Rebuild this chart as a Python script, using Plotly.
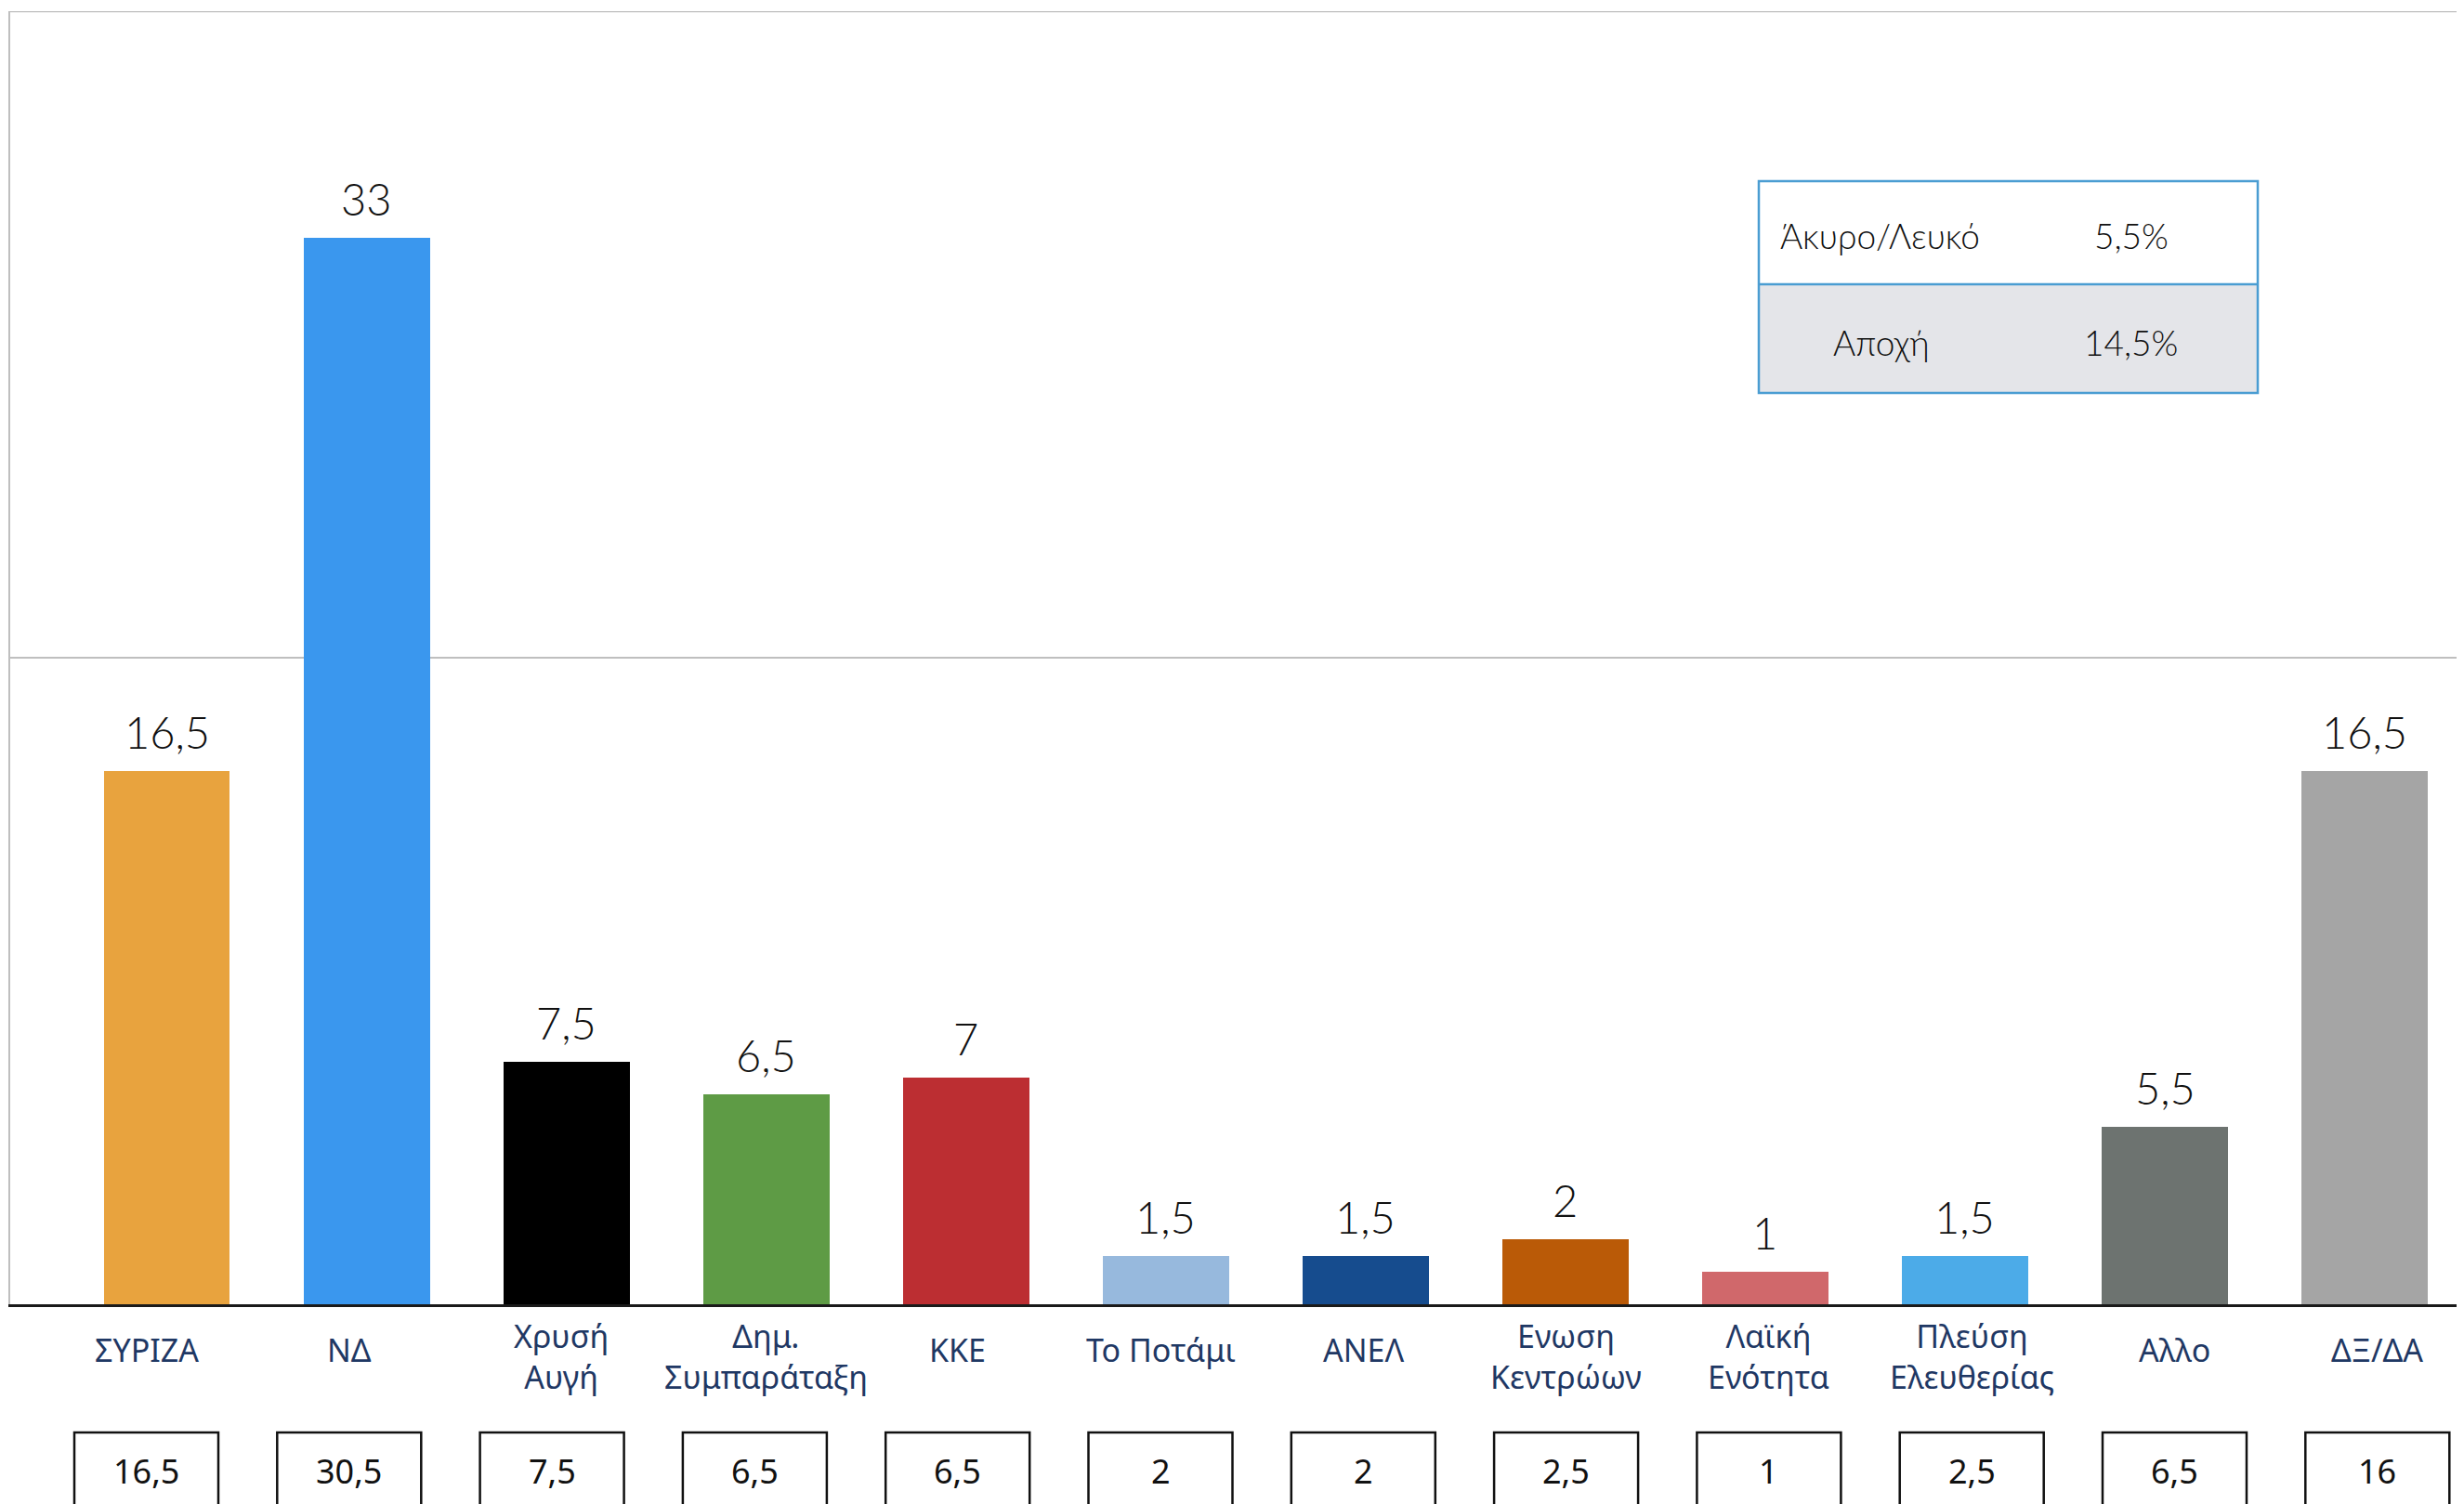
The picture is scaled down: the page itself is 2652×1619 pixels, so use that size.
import plotly.graph_objects as go

# ---- data ----
parties = ["ΣΥΡΙΖΑ", "ΝΔ", "Χρυσή<br>Αυγή", "Δημ.<br>Συμπαράταξη", "ΚΚΕ", "Το Ποτάμι",
           "ΑΝΕΛ", "Ενωση<br>Κεντρώων", "Λαϊκή<br>Ενότητα", "Πλεύση<br>Ελευθερίας", "Αλλο", "ΔΞ/ΔΑ"]
current = [16.5, 33, 7.5, 6.5, 7, 1.5, 1.5, 2, 1, 1.5, 5.5, 16.5]
previous = [16.5, 30.5, 7.5, 6.5, 6.5, 2, 2, 2.5, 1, 2.5, 6.5, 16]
bar_colors = ["#E8A33E", "#3A97EE", "#000000", "#5E9B45", "#BC2E32", "#97B9DD",
              "#164C8E", "#BA5A07", "#D0686B", "#4CABE8", "#6D7370", "#A5A5A5"]
side_labels = ["Άκυρο/Λευκό", "Αποχή"]
side_values = ["5,5%", "14,5%"]
y_ticks = [0, 20, 40]


def fmt(v):
    return f"{v:g}".replace(".", ",")


OFF = 8  # default page body margin
W, H = 2652 - OFF, 1619 - OFF
SL, ST, SB = 11, 12, 1404  # screen px of plot left / top / baseline
ML, MT = SL - OFF, ST - OFF
MB = H - (SB - OFF)
PW = W - ML
PH = SB - ST


def py(spx):
    return (SB - spx) / PH


def pxx(spx):
    return (spx - SL) / PW


idx = list(range(len(parties)))

fig = go.Figure()
fig.add_trace(go.Bar(
    x=idx, y=current,
    marker=dict(color=bar_colors, line=dict(width=0)),
    width=0.632,
    hoverinfo="skip",
    showlegend=False,
))

annotations = []
shapes = []

# value labels above bars
for i, v in enumerate(current):
    annotations.append(dict(
        x=i, y=v, xref="x", yref="y", text=fmt(v), showarrow=False,
        xanchor="center", yanchor="bottom", yshift=12,
        font=dict(family="Lato", size=47, color="#111111", weight=300),
    ))

# small horizontal nudges of some category labels (as in the original artwork)
label_nudge = {2: 10, 3: 12}

# category labels & previous-value boxes on a secondary (offset) axis
for i, (name, pv) in enumerate(zip(parties, previous)):
    two = "<br>" in name
    annotations.append(dict(
        x=i, xref="x2", y=py(1460 if two else 1453), yref="paper",
        text=name, showarrow=False, xanchor="center", yanchor="middle",
        xshift=label_nudge.get(i, 0),
        font=dict(family="Noto Sans", size=34, color="#1F3864"),
    ))
    shapes.append(dict(
        type="rect", xref="x2", yref="paper",
        x0=i - 0.355, x1=i + 0.355, y0=py(1542), y1=py(1650),
        line=dict(color="#111111", width=2.5), fillcolor="white", layer="above",
    ))
    annotations.append(dict(
        x=i, xref="x2", y=py(1583), yref="paper",
        text=fmt(pv), showarrow=False, xanchor="center", yanchor="middle",
        font=dict(family="Noto Sans", size=36, color="#111111"),
    ))

# top frame line at the axis maximum
shapes.append(dict(type="line", xref="paper", yref="y", x0=0, x1=1,
                   y0=y_ticks[-1], y1=y_ticks[-1], line=dict(color="#BFBFBF", width=2.5)))

# side box (invalid / abstention)
bx0, bx1 = pxx(1893), pxx(2430)
by_top, by_mid, by_bot = py(195), py(306), py(423)
shapes.append(dict(type="rect", xref="paper", yref="paper", x0=bx0, x1=bx1,
                   y0=by_bot, y1=by_mid, fillcolor="#E4E5E9", line=dict(width=0), layer="above"))
shapes.append(dict(type="rect", xref="paper", yref="paper", x0=bx0, x1=bx1,
                   y0=by_bot, y1=by_top, fillcolor="rgba(0,0,0,0)",
                   line=dict(color="#4A9DD2", width=2.5), layer="above"))
shapes.append(dict(type="line", xref="paper", yref="paper", x0=bx0, x1=bx1,
                   y0=by_mid, y1=by_mid, line=dict(color="#4A9DD2", width=2.5), layer="above"))

side_font = dict(family="Lato", size=37, color="#111111", weight=300)
annotations.append(dict(x=pxx(1914), y=py(254), xref="paper", yref="paper", text=side_labels[0],
                        showarrow=False, xanchor="left", yanchor="middle", font=side_font))
annotations.append(dict(x=pxx(2294), y=py(254), xref="paper", yref="paper", text=side_values[0],
                        showarrow=False, xanchor="center", yanchor="middle", font=side_font))
annotations.append(dict(x=pxx(2025), y=py(368), xref="paper", yref="paper", text=side_labels[1],
                        showarrow=False, xanchor="center", yanchor="middle", font=side_font))
annotations.append(dict(x=pxx(2293), y=py(368), xref="paper", yref="paper", text=side_values[1],
                        showarrow=False, xanchor="center", yanchor="middle", font=side_font))

# axis ranges (screen px → category units)
bar_c0, bar_step = 179.5, 215.05
lab_c0, lab_step = 157.5, 218.3
x_range = [(SL - bar_c0) / bar_step, (SL + PW - bar_c0) / bar_step]
x2_range = [(SL - lab_c0) / lab_step, (SL + PW - lab_c0) / lab_step]

fig.update_layout(
    width=W, height=H,
    margin=dict(l=ML, r=0, t=MT, b=MB, pad=0),
    paper_bgcolor="white", plot_bgcolor="white",
    bargap=0,
    xaxis=dict(range=x_range, showticklabels=False, ticks="", showgrid=False,
               zeroline=False, showline=True, linecolor="#1a1a1a", linewidth=2.5),
    xaxis2=dict(range=x2_range, overlaying="x", visible=False, showgrid=False),
    yaxis=dict(range=[0, 40], tickvals=y_ticks, showticklabels=False, ticks="",
               showgrid=True, gridcolor="#BFBFBF", gridwidth=2, zeroline=False,
               showline=True, linecolor="#BFBFBF", linewidth=2),
    annotations=annotations,
    shapes=shapes,
    showlegend=False,
)
# invisible trace to activate x2
fig.add_trace(go.Scatter(x=[0], y=[0], xaxis="x2", mode="markers",
                         marker=dict(opacity=0), hoverinfo="skip", showlegend=False))

fig.write_html("out.html")
